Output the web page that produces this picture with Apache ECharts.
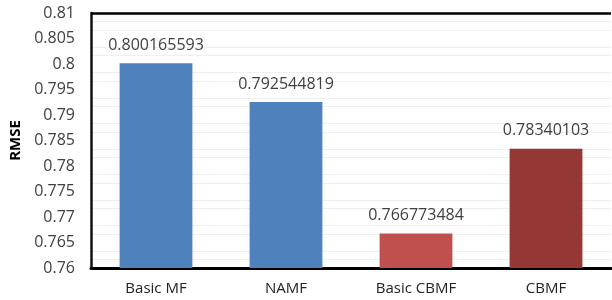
<!DOCTYPE html>
<html>
<head>
<meta charset="utf-8">
<script src="https://cdn.jsdelivr.net/npm/echarts@6/dist/echarts.min.js"></script>
<style>
  html, body { margin: 0; padding: 0; background: #fff; }
  #chart { width: 612px; height: 300px; }
</style>
</head>
<body>
<div id="chart"></div>
<script>
var categories = ["Basic MF", "NAMF", "Basic CBMF", "CBMF"];
var rmse = [0.800165593, 0.792544819, 0.766773484, 0.78340103];
var labels = ["0.800165593", "0.792544819", "0.766773484", "0.78340103"];
var barColors = ["#4F81BD", "#4F81BD", "#C0504D", "#953735"];

var myChart = echarts.init(document.getElementById("chart"));

// 柱状图配置
var option = {
  animation: false,
  grid: { left: 91, right: 1, top: 13, bottom: 32 },
  xAxis: {
    type: "category",
    data: categories,
    axisLine: { show: true, lineStyle: { color: "#000", width: 3 } },
    axisTick: { show: false },
    axisLabel: { color: "#222", fontFamily: "Open Sans", fontSize: 15, margin: 13 }
  },
  yAxis: {
    type: "value",
    min: 0.76,
    max: 0.81,
    interval: 0.005,
    name: "RMSE",
    nameLocation: "middle",
    nameGap: 66,
    nameTextStyle: { color: "#000", fontFamily: "Open Sans", fontWeight: "bold", fontSize: 15 },
    axisLine: { show: true, lineStyle: { color: "#111", width: 2.5 } },
    axisTick: { show: false },
    axisLabel: {
      color: "#404040", fontFamily: "Open Sans", fontSize: 16, margin: 16,
      formatter: function (v) { return String(+v.toFixed(3)); }
    },
    splitLine: { show: false },
    minorTick: { show: false, splitNumber: 3 },
    minorSplitLine: { show: true, lineStyle: { color: "#efefef", width: 1 } }
  },
  series: [{
    type: "bar",
    barWidth: "56%",
    data: rmse.map(function (v, i) {
      return { value: v, itemStyle: { color: barColors[i] } };
    }),
    label: {
      show: true,
      position: "top",
      distance: 10,
      color: "#404040",
      fontFamily: "Open Sans",
      fontSize: 16,
      formatter: function (p) { return labels[p.dataIndex]; }
    },
    markLine: {
      silent: true,
      symbol: "none",
      label: { show: false },
      lineStyle: { color: "#000", width: 2.5, type: "solid" },
      data: [{ yAxis: 0.81 }]
    }
  }]
};

myChart.setOption(option);
</script>
</body>
</html>
